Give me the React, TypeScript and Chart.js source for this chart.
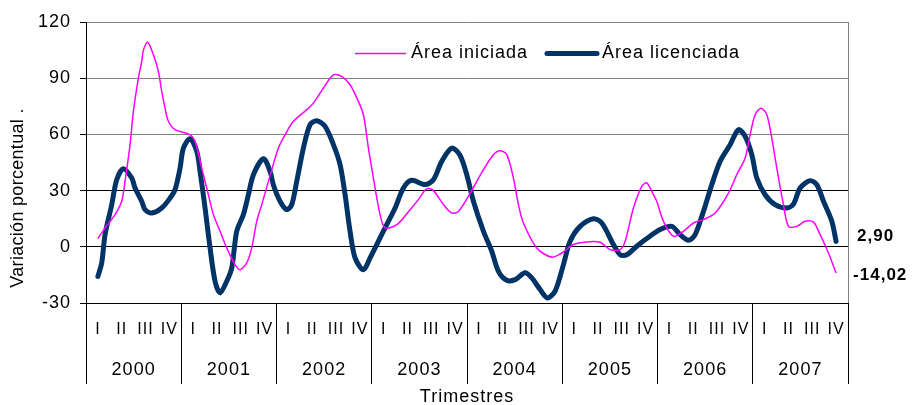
import { useEffect, useRef } from "react";
import { Chart, registerables } from "chart.js";

Chart.register(...registerables);

const FAMILY = "'Liberation Sans', Arial, sans-serif";
Chart.defaults.font.family = FAMILY;
Chart.defaults.color = "#000";

// ---- data ----
const years = ["2000", "2001", "2002", "2003", "2004", "2005", "2006", "2007"];
const quarters = ["I", "II", "III", "IV"];
const quarterLabels = years.flatMap(() => quarters);

const yTicksMin = -30;
const yTicksMax = 120;
const yTicksStep = 30;

const yTitle = "Variación porcentual .";
const xTitle = "Trimestres";
const nameIniciada = "Área iniciada";
const nameLicenciada = "Área licenciada";

// time in quarters since 2000-I (0 = I 2000, 31 = IV 2007)
const iniciadaT = [0, 0.30, 0.72, 1.00, 1.14, 1.35, 1.49, 1.70, 1.84, 1.91, 2.09, 2.33, 2.54, 2.68, 2.82, 2.96, 3.24, 3.87, 4.08, 4.36, 4.57, 4.85, 5.13, 5.41, 5.76, 5.97, 6.25, 6.46, 6.67, 6.88, 7.23, 7.58, 7.86, 8.21, 8.77, 9.05, 9.47, 9.89, 10.24, 10.59, 10.94, 11.15, 11.36, 11.57, 11.85, 12.06, 12.55, 13.11, 13.46, 13.81, 14.09, 14.51, 14.86, 15.14, 15.63, 16.19, 16.61, 16.89, 17.17, 17.45, 17.66, 17.87, 18.43, 19.06, 19.48, 19.97, 20.53, 21.09, 21.51, 21.93, 22.14, 22.49, 22.84, 23.05, 23.33, 23.47, 23.75, 24.17, 24.59, 25.01, 25.43, 25.92, 26.48, 26.83, 27.18, 27.39, 27.60, 27.85, 28.09, 28.30, 28.51, 28.79, 29.00, 29.35, 29.70, 30.05, 30.33, 30.68, 31];
const iniciadaV = [4.4, 10.1, 17.2, 24.3, 35, 54.5, 72.3, 90, 99, 105, 109.2, 102.5, 93.6, 83, 74, 67, 62.5, 59.8, 56.3, 42, 31.4, 17.2, 8.3, -0.6, -9.5, -12.2, -8.6, -0.6, 13.6, 22.5, 38, 52.7, 59.8, 67, 73.2, 76.7, 84.7, 91.8, 91, 86.5, 77.6, 70.5, 52.7, 36.7, 17.2, 10.1, 11.8, 19.8, 25.2, 31, 30, 22.5, 18, 18.9, 28.5, 41.2, 49.2, 51.3, 49.2, 36.7, 22.5, 12.7, -0.6, -5.6, -3.3, 1.2, 2.6, 2.4, -1.5, -1.5, 2.9, 20.7, 32.3, 34.1, 27.8, 24.3, 13.6, 5.6, 8.3, 12.7, 14.5, 18, 28.7, 38.5, 47.4, 59.8, 70.5, 74, 70.5, 58, 42, 22.5, 10.9, 10.9, 13.6, 13.2, 6.5, -3.3, -14.02];

const licenciadaT = [0, 0.16, 0.30, 0.58, 0.79, 1.07, 1.42, 1.56, 1.84, 1.98, 2.26, 2.68, 3.03, 3.24, 3.45, 3.59, 3.87, 4.15, 4.29, 4.50, 4.71, 4.92, 5.13, 5.41, 5.62, 5.83, 6.11, 6.32, 6.53, 6.95, 7.23, 7.37, 7.65, 7.93, 8.14, 8.35, 8.63, 8.91, 9.19, 9.54, 9.89, 10.17, 10.38, 10.59, 10.80, 11.15, 11.43, 11.71, 12.06, 12.48, 12.83, 13.18, 13.74, 14.09, 14.44, 14.86, 15.20, 15.49, 15.77, 16.19, 16.54, 16.82, 17.17, 17.52, 17.94, 18.22, 18.57, 18.87, 19.20, 19.55, 19.83, 20.25, 20.81, 21.16, 21.65, 21.93, 22.21, 22.63, 23.05, 23.61, 24.10, 24.45, 24.80, 25.08, 25.43, 25.78, 26.13, 26.55, 26.90, 27.18, 27.46, 27.67, 28.02, 28.44, 28.93, 29.21, 29.49, 29.91, 30.19, 30.47, 30.82, 31];
const licenciadaV = [-15.8, -8.6, 6.5, 22.5, 35.8, 41.7, 36.7, 31.4, 24.3, 19.8, 18, 20.7, 26, 30.5, 42, 52.7, 57.7, 51, 40.3, 20.7, -0.6, -18.4, -24.6, -18.4, -11.3, 8.3, 17.2, 27.8, 38.5, 47, 40.3, 33, 24.3, 19.8, 22.5, 35, 52.7, 65.2, 67.3, 64.3, 54.5, 43.8, 27.8, 8.2, -5.9, -12.2, -5.9, 1.2, 10.1, 20.7, 31.4, 35.5, 33.2, 35.8, 45.6, 52.7, 49, 38.5, 24.3, 8.3, -2.4, -13.1, -17.9, -17.5, -13.9, -16.6, -22.8, -27.3, -23.7, -9.5, 2.9, 10.9, 15, 12.7, 1.2, -4.2, -4.2, 0.3, 4.4, 9.2, 10.9, 6.5, 3.5, 6.5, 18.9, 33.2, 45.6, 54.5, 62.5, 59, 49.2, 36.7, 27.8, 22.5, 20.7, 22.8, 31.4, 35.3, 33.2, 24.3, 13.6, 2.90];

// ---- styles ----
const PINK = "#FF00FF";
const NAVY = "#003366";
const GRID_GRAY = "#808080";
const DARK = "#000000";

const fmt = (v: number) => v.toFixed(2).replace(".", ",");
const pts = (t: number[], v: number[]) => t.map((x, i) => ({ x, y: v[i] }));

const overlayPlugin = {
  id: "overlay",
  beforeLayout(chart: any) {
    chart.ctx.letterSpacing = "1px";
  },
  beforeDraw(chart: any) {
    chart.ctx.letterSpacing = "1px";
  },
  afterDraw(chart: any) {
    const ctx = chart.ctx as CanvasRenderingContext2D & { letterSpacing: string };
    const xs = chart.scales.x;
    const ys = chart.scales.y;

    // y-axis title
    ctx.save();
    ctx.letterSpacing = "0.3px";
    ctx.font = `18px ${FAMILY}`;
    ctx.fillStyle = DARK;
    ctx.translate(18.5, 198);
    ctx.rotate(-Math.PI / 2);
    ctx.textAlign = "center";
    ctx.textBaseline = "middle";
    ctx.fillText(yTitle, 0, 0);
    ctx.restore();

    // legend
    ctx.save();
    ctx.letterSpacing = "1px";
    ctx.font = `18px ${FAMILY}`;
    ctx.fillStyle = DARK;
    ctx.textBaseline = "middle";
    ctx.textAlign = "left";
    ctx.strokeStyle = PINK;
    ctx.lineWidth = 1.5;
    ctx.beginPath();
    ctx.moveTo(355, 53.5);
    ctx.lineTo(406, 53.5);
    ctx.stroke();
    ctx.fillText(nameIniciada, 411, 53);
    ctx.strokeStyle = NAVY;
    ctx.lineWidth = 5;
    ctx.lineCap = "round";
    ctx.beginPath();
    ctx.moveTo(547, 53.5);
    ctx.lineTo(597, 53.5);
    ctx.stroke();
    ctx.fillText(nameLicenciada, 602, 53);
    ctx.restore();

    // end-value labels
    ctx.save();
    ctx.letterSpacing = "1px";
    ctx.font = `bold 17px ${FAMILY}`;
    ctx.fillStyle = DARK;
    ctx.textBaseline = "middle";
    ctx.textAlign = "left";
    const li = licenciadaV.length - 1;
    const ii = iniciadaV.length - 1;
    ctx.fillText(
      fmt(licenciadaV[li]),
      xs.getPixelForValue(licenciadaT[li]) + 21,
      ys.getPixelForValue(licenciadaV[li]) - 5
    );
    ctx.fillText(
      fmt(iniciadaV[ii]),
      xs.getPixelForValue(iniciadaT[ii]) + 17,
      ys.getPixelForValue(iniciadaV[ii]) + 2
    );
    ctx.restore();
  },
};

export default function App() {
  const ref = useRef<HTMLCanvasElement>(null);

  useEffect(() => {
    const canvas = ref.current;
    if (!canvas) return;
    const chart = new Chart(canvas, {
      type: "line",
      data: {
        datasets: [
          {
            label: nameIniciada,
            data: pts(iniciadaT, iniciadaV),
            borderColor: PINK,
            borderWidth: 1.5,
            pointRadius: 0,
            tension: 0.3,
            fill: false,
            xAxisID: "x",
            yAxisID: "y",
          },
          {
            label: nameLicenciada,
            data: pts(licenciadaT, licenciadaV),
            borderColor: NAVY,
            borderWidth: 5,
            pointRadius: 0,
            tension: 0.3,
            fill: false,
            borderCapStyle: "round",
            borderJoinStyle: "round",
            xAxisID: "x",
            yAxisID: "y",
          },
        ],
      },
      options: {
        responsive: false,
        devicePixelRatio: 1,
        animation: false,
        events: [],
        layout: { padding: { left: 0, right: 65, top: 22, bottom: 0 } },
        plugins: {
          legend: { display: false },
          tooltip: { enabled: false },
          title: { display: false },
        },
        scales: {
          x: {
            type: "linear",
            min: -0.5,
            max: quarterLabels.length - 0.5,
            display: false,
          },
          xq: {
            type: "category",
            axis: "x",
            position: "bottom",
            weight: 0,
            labels: quarterLabels,
            offset: true,
            grid: {
              display: true,
              drawOnChartArea: true,
              offset: true,
              tickLength: 48,
              lineWidth: 1,
              color: (c: any) => (c.index === undefined ? GRID_GRAY : "transparent"),
              tickColor: (c: any) =>
                c.index === undefined || c.index % 4 === 0 ? DARK : "transparent",
            },
            border: { display: true, color: DARK, width: 1 },
            ticks: {
              autoSkip: false,
              maxRotation: 0,
              minRotation: 0,
              padding: -30.6,
              font: { size: 16, family: FAMILY },
              color: DARK,
            },
            afterFit: (s: any) => {
              s.height = 48;
            },
          },
          xy: {
            type: "category",
            axis: "x",
            position: "bottom",
            weight: 1,
            labels: years,
            offset: true,
            grid: {
              display: true,
              drawOnChartArea: false,
              offset: true,
              tickLength: 33,
              color: DARK,
              tickColor: DARK,
            },
            border: { display: false },
            ticks: {
              autoSkip: false,
              maxRotation: 0,
              minRotation: 0,
              padding: -24.8,
              font: { size: 18, family: FAMILY },
              color: DARK,
            },
            title: {
              display: true,
              text: xTitle,
              font: { size: 18, family: FAMILY },
              color: DARK,
              padding: { top: 0, bottom: -2.8 },
            },
            afterFit: (s: any) => {
              s.height = 54;
            },
          },
          y: {
            type: "linear",
            position: "left",
            min: yTicksMin,
            max: yTicksMax,
            ticks: {
              stepSize: yTicksStep,
              padding: 9,
              font: { size: 18, family: FAMILY },
              color: DARK,
            },
            grid: {
              drawOnChartArea: true,
              tickLength: 6,
              lineWidth: 1,
              color: (c: any) =>
                c.tick && (c.tick.value === 30 || c.tick.value === 0 || c.tick.value === -30)
                  ? DARK
                  : GRID_GRAY,
              tickColor: DARK,
            },
            border: { display: true, color: DARK, width: 1 },
            afterFit: (s: any) => {
              s.width = 86;
            },
          },
        },
      } as any,
      plugins: [overlayPlugin],
    });
    return () => chart.destroy();
  }, []);

  return (
    <div
      style={{
        position: "fixed",
        left: 0,
        top: 0,
        width: 913,
        height: 405,
        background: "#fff",
      }}
    >
      <canvas ref={ref} width={913} height={405} style={{ display: "block" }} />
    </div>
  );
}
